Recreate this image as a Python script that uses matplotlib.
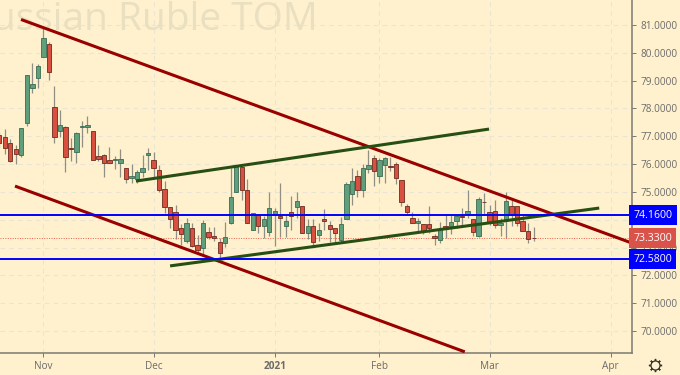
import matplotlib
matplotlib.use("Agg")
import matplotlib.pyplot as plt
import numpy as np
from matplotlib.lines import Line2D
from matplotlib.transforms import blended_transform_factory

plt.rcParams['font.family'] = ['Open Sans', 'DejaVu Sans']

opens = [77.05,76.96,76.75,76.55,76.31,77.47,78.75,79.10,79.86,80.31,78.07,77.18,77.32,76.58,76.45,77.34,77.35,77.18,76.28,76.32,
         76.15,76.16,76.05,75.85,75.51,75.48,75.71,76.31,76.16,75.79,75.10,74.45,74.27,73.69,73.24,73.69,73.09,73.00,73.57,73.41,
         73.21,73.15,73.90,74.99,75.88,75.07,73.63,74.16,73.78,73.56,74.16,74.12,73.78,74.27,74.45,74.48,73.51,73.79,73.44,74.03,
         73.81,73.69,73.27,74.04,74.92,75.56,75.07,75.82,76.21,75.59,75.98,75.94,76.01,75.43,74.51,74.05,73.87,73.85,73.85,73.40,
         73.28,73.77,73.79,73.96,74.13,74.21,74.02,73.40,74.64,74.27,74.32,73.80,73.99,74.51,74.51,73.97,73.61,73.36]
highs = [77.17,77.25,76.90,76.69,77.29,79.22,79.62,79.60,80.88,80.40,78.81,77.95,77.37,76.95,77.17,77.55,77.73,77.18,76.69,76.37,
         76.63,76.29,76.56,75.87,76.01,75.79,76.33,76.59,76.44,75.97,75.41,74.45,74.53,73.85,74.05,73.87,73.45,73.99,73.75,73.73,
         73.33,73.91,75.85,75.91,75.88,75.47,74.23,74.16,74.15,74.99,74.41,75.31,74.17,74.86,75.01,74.48,74.01,74.01,73.87,74.38,
         73.97,73.69,74.11,75.34,75.85,75.79,76.01,76.51,76.33,76.21,76.27,76.27,76.06,75.43,74.57,74.27,74.05,73.85,74.50,73.49,
         73.93,74.17,74.17,74.17,74.41,75.07,74.02,74.83,74.95,74.53,74.71,74.05,75.01,74.77,74.51,74.17,73.87,73.73]
lows = [76.57,76.35,76.09,76.00,76.25,77.38,78.57,78.75,79.84,79.02,76.77,76.96,75.73,76.11,76.03,76.63,77.13,76.15,76.11,75.53,
        76.03,75.81,75.55,75.33,75.31,75.31,75.55,75.79,75.55,75.01,74.26,73.72,73.30,73.09,73.15,73.03,72.77,72.74,73.30,73.24,
        72.61,73.01,73.85,74.99,74.71,73.90,73.63,73.54,73.33,73.42,73.06,73.37,73.37,73.63,74.05,73.51,73.30,73.07,73.25,73.63,
        73.21,73.21,73.21,74.04,74.53,74.83,74.83,75.67,75.23,75.31,75.31,75.76,75.29,74.51,74.17,73.87,73.58,73.49,73.51,73.10,
        73.16,73.34,73.48,73.69,73.76,74.05,73.40,73.37,74.17,73.81,73.69,73.40,73.34,73.76,73.76,73.58,73.18,73.24]
closes = [76.75,76.57,76.11,76.35,77.29,79.22,78.87,79.52,80.55,79.32,76.99,77.42,76.27,76.53,77.12,77.37,77.40,76.15,76.20,76.05,
          76.03,76.20,76.19,75.45,75.56,75.71,75.86,76.39,75.85,75.07,74.45,74.04,73.63,73.50,73.87,73.06,72.93,73.87,73.38,73.36,
          72.82,73.37,74.81,75.88,75.07,73.90,74.23,73.78,74.03,74.41,74.33,74.05,73.95,74.14,74.66,73.54,73.76,73.21,73.63,73.97,
          73.68,73.51,73.85,75.29,75.38,75.07,75.85,75.96,75.77,76.15,76.21,75.91,75.49,74.65,74.29,73.87,73.95,73.61,73.72,73.34,
          73.66,73.66,73.91,74.13,74.09,74.31,73.55,74.75,74.62,73.87,73.80,73.90,74.69,74.17,73.90,73.61,73.30,73.33]

month_ticks = [8, 28, 50, 69, 89, 111]
month_labels = ['Nov', 'Dec', '2021', 'Feb', 'Mar', 'Apr']
price_ticks = [70, 71, 72, 73, 74, 75, 76, 77, 78, 79, 80, 81]

red_line_upper = ([3.94, 114.85], [81.20, 73.16])
red_line_lower = ([2.85, 84.5], [75.21, 69.25])
green_line_upper = ([24.8, 88.9], [75.39, 77.26])
green_line_lower = ([31.0, 108.9], [72.34, 74.42])
support_levels = [74.16, 72.58]
last_price = 73.33

BG = '#fff1cd'
UP, DOWN = '#5f9f7c', '#d8503f'
UP_EDGE, DOWN_EDGE = '#3a6a52', '#6e2a20'
TXT = '#6b6b6b'

fig = plt.figure(figsize=(6.8, 3.75), dpi=100, facecolor=BG)
ax = fig.add_axes([0, (375 - 352.5) / 375, 632 / 680, 352.5 / 375], facecolor=BG)
ax.set_xlim(0.127, 114.85)
ax.set_ylim(69.227, 81.9)

ax.set_yticks(price_ticks)
ax.set_yticklabels([f'{p:.4f}' for p in price_ticks], fontsize=7.2, color=TXT)
ax.set_xticks(month_ticks)
ax.set_xticklabels(month_labels, fontsize=7.2, color=TXT)
ax.get_xticklabels()[2].set_fontweight('bold')
ax.yaxis.tick_right()
ax.tick_params(axis='both', length=3, width=0.7, color='#777777', pad=3)
for s in ['top', 'left']:
    ax.spines[s].set_visible(False)
for s in ['right', 'bottom']:
    ax.spines[s].set_color('#7a7a72')
    ax.spines[s].set_linewidth(1.1)
ax.grid(True, color='#e8e4d6', lw=0.8, ls=(0, (4, 4)), zorder=0)
ax.set_axisbelow(True)

ax.text(-0.051, 0.943, 'Russian Ruble TOM', transform=ax.transAxes, fontsize=28,
        color='#e9dfc1', family=['Open Sans', 'DejaVu Sans'], va='center', ha='left', zorder=1)

idx = np.arange(len(opens))
o, h, l, c = map(np.array, (opens, highs, lows, closes))
up = c >= o
ax.vlines(idx, l, h, colors='#8f8f85', lw=0.9, zorder=2)
ax.bar(idx[up], (c - o)[up], bottom=o[up], width=0.78, color=UP, edgecolor=UP_EDGE, lw=0.6, zorder=3)
ax.bar(idx[~up], (c - o)[~up], bottom=o[~up], width=0.78, color=DOWN, edgecolor=DOWN_EDGE, lw=0.6, zorder=3)

ax.axhline(last_price, color='#e8604f', lw=0.7, ls=(0, (1, 1.5)), zorder=2)
for lvl in support_levels:
    ax.axhline(lvl, color='#0000ff', lw=1.4, zorder=5)
for xs, ys in (red_line_upper, red_line_lower):
    ax.plot(xs, ys, color='#990000', lw=2.2, solid_capstyle='butt', zorder=4)
for xs, ys in (green_line_upper, green_line_lower):
    ax.plot(xs, ys, color='#274e13', lw=2.2, solid_capstyle='butt', zorder=4)

trans = blended_transform_factory(ax.transAxes, ax.transData)
for lvl, col in ((support_levels[0], '#0000ff'), (support_levels[1], '#0000ff'), (last_price, '#d9534a')):
    ax.text(1.002, lvl, f'{lvl:.4f}', transform=trans, fontsize=7.6, color='white', va='center', ha='left',
            zorder=10, clip_on=False,
            bbox=dict(boxstyle='square,pad=0.42', fc=col, ec=col, lw=0))

gx, gy = 655 / 680, (375 - 365) / 375
fig.add_artist(Line2D([gx], [gy], transform=fig.transFigure, marker=(8, 2, 0), ms=9.5, mew=1.0,
                      color='#333333', ls='none'))
fig.add_artist(Line2D([gx], [gy], transform=fig.transFigure, marker='o', ms=6.5, mew=0.9,
                      mfc=BG, mec='#333333', ls='none'))

fig.savefig('out.png', dpi=100, facecolor=BG)
